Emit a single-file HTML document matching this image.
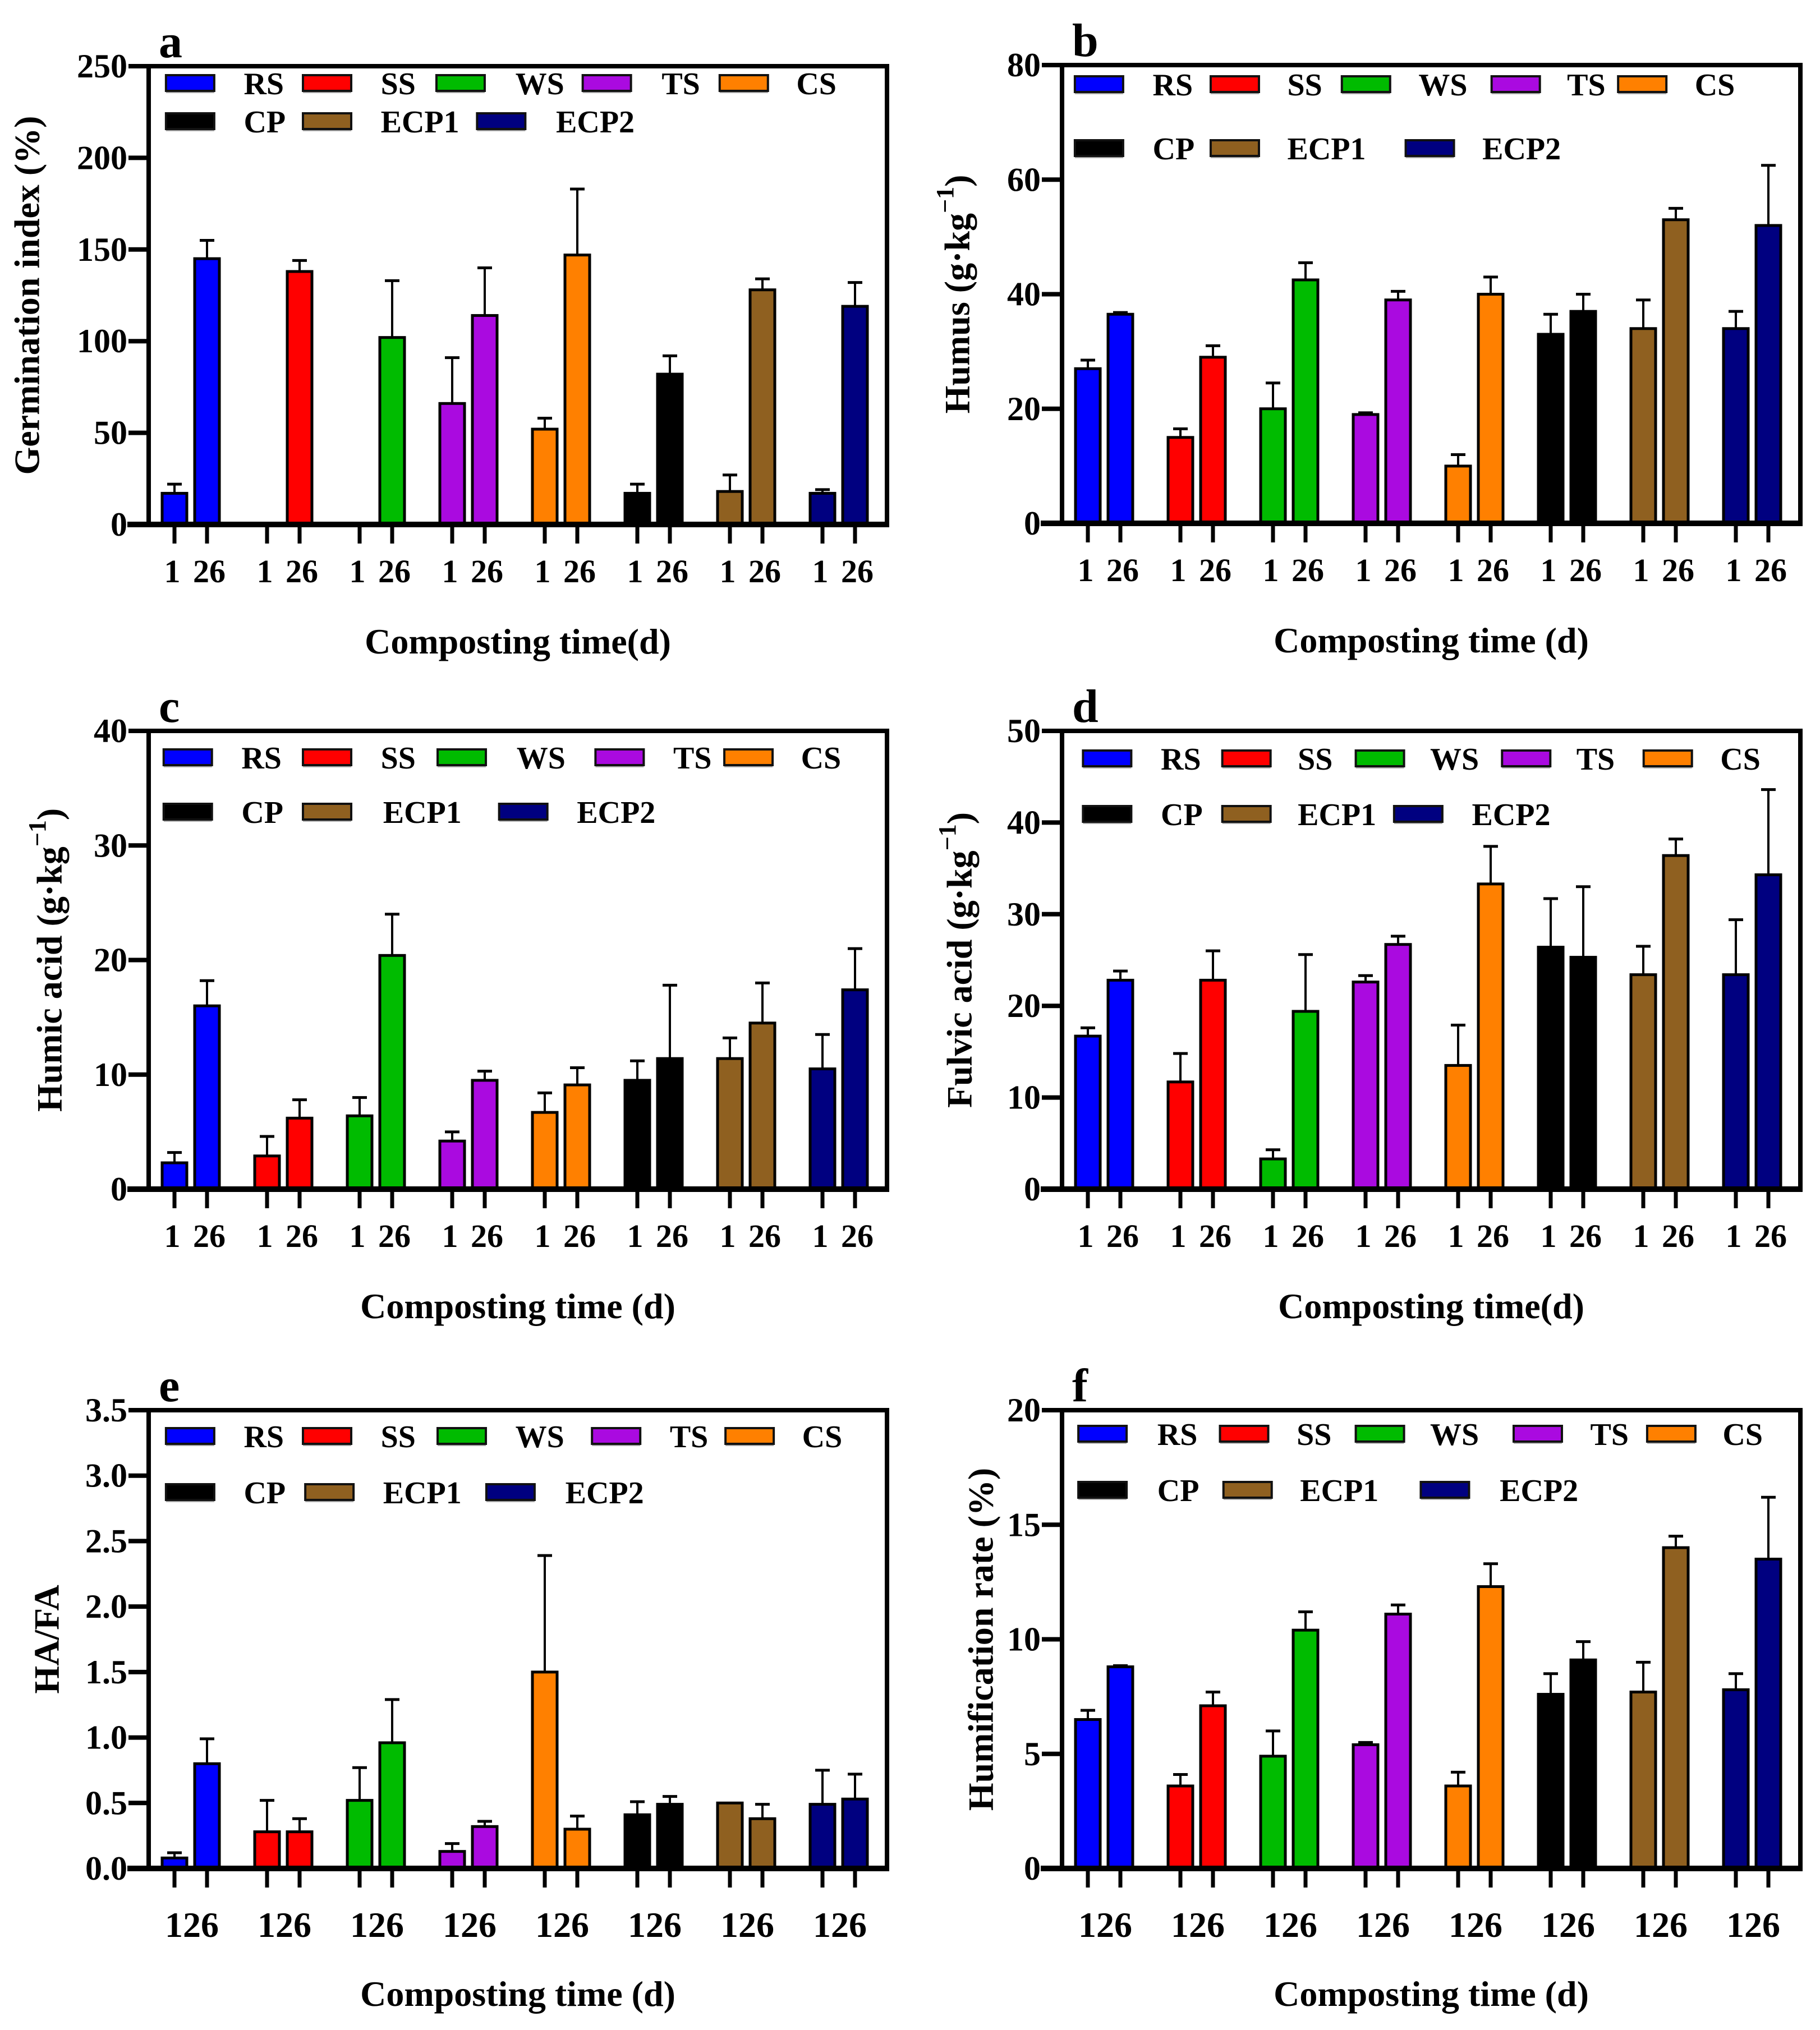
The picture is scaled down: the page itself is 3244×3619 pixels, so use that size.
<!DOCTYPE html>
<html><head><meta charset="utf-8"><style>
html,body{margin:0;padding:0;background:#fff;}
svg{display:block;font-family:"Liberation Serif","Times New Roman",serif;font-weight:bold;}
</style></head><body>
<svg id="fig" width="3244" height="3619" viewBox="0 0 3244 3619" xmlns="http://www.w3.org/2000/svg"></svg>
<script>
const groups = ["RS","SS","WS","TS","CS","CP","ECP1","ECP2"];
const colors = ["#0000ff","#ff0000","#00bb00","#aa0ae0","#ff8000","#000000","#8f6020","#000080"];
const days = ["1","26"];
// panel a: germination index
const aDay1 = [17,0,0,66,52,17,18,17];
const aDay26 = [145,138,102,114,147,82,128,119];
const aErr1 = [22,0,0,91,58,22,27,19];
const aErr26 = [155,144,133,140,183,92,134,132];
const aTicks = ["0","50","100","150","200","250"];
// panel b: humus
const bDay1 = [27,15,20,19,10,33,34,34];
const bDay26 = [36.5,29,42.5,39,40,37,53,52];
const bErr1 = [28.5,16.5,24.5,19.3,12,36.5,39,37];
const bErr26 = [36.8,31,45.5,40.5,43,40,55,62.5];
const bTicks = ["0","20","40","60","80"];
// panel c: humic acid
const cDay1 = [2.3,2.9,6.4,4.2,6.7,9.5,11.4,10.5];
const cDay26 = [16,6.2,20.4,9.5,9.1,11.4,14.5,17.4];
const cErr1 = [3.2,4.6,8,5,8.4,11.2,13.2,13.5];
const cErr26 = [18.2,7.8,24,10.3,10.6,17.8,18,21];
const cTicks = ["0","10","20","30","40"];
// panel d: fulvic acid
const dDay1 = [16.7,11.7,3.3,22.6,13.5,26.4,23.4,23.4];
const dDay26 = [22.8,22.8,19.4,26.7,33.3,25.3,36.4,34.3];
const dErr1 = [17.6,14.8,4.3,23.3,17.9,31.7,26.5,29.4];
const dErr26 = [23.8,26,25.6,27.6,37.4,33,38.2,43.6];
const dTicks = ["0","10","20","30","40","50"];
// panel e: HA/FA
const eDay1 = [0.08,0.28,0.52,0.13,1.5,0.41,0.5,0.49];
const eDay26 = [0.8,0.28,0.96,0.32,0.3,0.49,0.38,0.53];
const eErr1 = [0.12,0.52,0.77,0.19,2.39,0.51,0.5,0.75];
const eErr26 = [0.99,0.38,1.29,0.36,0.4,0.55,0.49,0.72];
const eTicks = ["0.0","0.5","1.0","1.5","2.0","2.5","3.0","3.5"];
// panel f: humification rate
const fDay1 = [6.5,3.6,4.9,5.4,3.6,7.6,7.7,7.8];
const fDay26 = [8.8,7.1,10.4,11.1,12.3,9.1,14,13.5];
const fErr1 = [6.9,4.1,6,5.5,4.2,8.5,9,8.5];
const fErr26 = [8.85,7.7,11.2,11.5,13.3,9.9,14.5,16.2];
const fTicks = ["0","5","10","15","20"];

const NS="http://www.w3.org/2000/svg";
const svg=document.getElementById('fig');
function mk(tag,attrs,parent){const e=document.createElementNS(NS,tag);for(const k in attrs)e.setAttribute(k,attrs[k]);(parent||svg).appendChild(e);return e;}

const panels=[
 {id:'a',L:265,T:118,d1:aDay1,d2:aDay26,e1:aErr1,e2:aErr26,ticks:aTicks,max:250,ytitle:'Germination index (%)',yx:55,xt:'Composting time(d)',
  lg:{y1:31,y2:99,sw1:[15,133,248,374,492],tx1:[82,200,316,442,558],sw2:[15,133,283],tx2:[82,200,351]},close:false},
 {id:'b',L:1893,T:116,d1:bDay1,d2:bDay26,e1:bErr1,e2:bErr26,ticks:bTicks,max:80,ytitle:'Humus (g·kg',yx:1713,xt:'Composting time (d)',
  lg:{y1:35,y2:149,sw1:[11,128,241,370,479],tx1:[78,194,307,435,545],sw2:[11,128,296],tx2:[78,194,362]},close:false,sup:true},
 {id:'c',L:265,T:1303,d1:cDay1,d2:cDay26,e1:cErr1,e2:cErr26,ticks:cTicks,max:40,ytitle:'Humic acid (g·kg',yx:95,xt:'Composting time (d)',
  lg:{y1:48,y2:145,sw1:[13,133,249,385,496],tx1:[80,200,317,452,562],sw2:[13,133,302],tx2:[80,202,369]},close:false,sup:true},
 {id:'d',L:1893,T:1303,d1:dDay1,d2:dDay26,e1:dErr1,e2:dErr26,ticks:dTicks,max:50,ytitle:'Fulvic acid (g·kg',yx:1717,xt:'Composting time(d)',
  lg:{y1:50,y2:149,sw1:[18,138,253,379,501],tx1:[85,203,317,443,567],sw2:[18,138,286],tx2:[85,203,353]},close:false,sup:true},
 {id:'e',L:265,T:2514,d1:eDay1,d2:eDay26,e1:eErr1,e2:eErr26,ticks:eTicks,max:3.5,ytitle:'HA/FA',yx:90,xt:'Composting time (d)',
  lg:{y1:47,y2:147,sw1:[15,133,249,382,497],tx1:[82,200,316,449,563],sw2:[15,135,291],tx2:[82,202,359]},close:true},
 {id:'f',L:1893,T:2514,d1:fDay1,d2:fDay26,e1:fErr1,e2:fErr26,ticks:fTicks,max:20,ytitle:'Humification rate (%)',yx:1755,xt:'Composting time (d)',
  lg:{y1:43,y2:143,sw1:[14,136,253,389,504],tx1:[82,202,317,455,569],sw2:[14,139,309],tx2:[82,205,377]},close:true}
];
const W=1316,H=817,K=2.069;

panels.forEach(p=>{
  const g=mk('g',{});
  
  
  const L=p.L,T=p.T,B=T+H,R=L+W;
  const y=v=>B-v/p.max*H;
  const x=(i,j)=>L+46+165*i+58*j;
  // panel letter
  const lt=mk('text',{x:L+18,y:T-16,'font-size':84},g);lt.textContent=p.id;
  
  // bars
  const vals=[p.d1,p.d2],errs=[p.e1,p.e2];
  for(let i=0;i<8;i++)for(let j=0;j<2;j++){
    const v=vals[j][i],e=errs[j][i],cx=x(i,j);
    if(e>v){
      const el=mk('line',{x1:cx,x2:cx,y1:y(v),y2:y(e),stroke:'#000','stroke-width':4},g);
      
      mk('line',{x1:cx-13,x2:cx+13,y1:y(e),y2:y(e),stroke:'#000','stroke-width':5},g);
    }
    if(v>0){
      const r=mk('rect',{x:cx-22,y:y(v),width:44,height:B-y(v),fill:colors[i],stroke:'#000','stroke-width':5},g);
      
      
    }
    const tk=mk('line',{x1:cx,x2:cx,y1:B,y2:B+34,stroke:'#000','stroke-width':7},g);
    
  }
  // tick labels x
  for(let i=0;i<8;i++){
    if(p.close){
      const t=mk('text',{x:(x(i,0)+x(i,1))/2+2,y:B+122,'font-size':64,'text-anchor':'middle'},g);
      t.textContent=days[0]+days[1];
      
    }else{
      for(let j=0;j<2;j++){
        const t=mk('text',{x:x(i,j)+(j?4:-4),y:B+103,'font-size':58,'text-anchor':'middle'},g);
        t.textContent=days[j];
        
      }
    }
  }
  // frame
  const fr=mk('path',{d:`M${L} ${B} L${L} ${T} L${R} ${T} L${R} ${B}`,fill:'none',stroke:'#000','stroke-width':8},g);
  
  const xa=mk('line',{x1:L-38,x2:R+4,y1:B,y2:B,stroke:'#000','stroke-width':10},g);
  
  // y ticks
  p.ticks.forEach((s,k)=>{
    const v=k*p.max/(p.ticks.length-1);
    mk('line',{x1:L-36,x2:L,y1:y(v),y2:y(v),stroke:'#000','stroke-width':8},g);
    const t=mk('text',{x:L-38,y:y(v)+20,'font-size':60,'text-anchor':'end'},g);
    t.textContent=s;
    
  });
  // y title
  const cy=T+H/2;
  const yt=mk('text',{x:p.yx,y:cy,'font-size':64,'text-anchor':'middle',transform:`rotate(-90 ${p.yx} ${cy})`,'dominant-baseline':'middle'},g);
  
  if(p.sup){
    yt.appendChild(document.createTextNode(p.ytitle));
    const s1=mk('tspan',{'baseline-shift':'super','font-size':44},yt);s1.textContent='−1';
    const s2=mk('tspan',{},yt);s2.textContent=')';
  } else yt.textContent=p.ytitle;
  // x title
  const xt=mk('text',{x:L+W/2,y:p.close?B+245:B+230,'font-size':64,'text-anchor':'middle'},g);
  xt.textContent=p.xt;
  
  // legend
  const lg=p.lg;
  for(let i=0;i<8;i++){
    const row=i<5?0:1,k=i<5?i:i-5;
    const sx=L+(row?lg.sw2[k]:lg.sw1[k])*K-(L===265?265-128*K:1893-915*K);
    const tx=L+(row?lg.tx2[k]:lg.tx1[k])*K-(L===265?265-128*K:1893-915*K);
    const cy2=T+(row?lg.y2:lg.y1);
    const e=mk('g',{},g);
    
    
    mk('rect',{x:sx,y:cy2-11,width:86,height:28,fill:'#aaa'},e);
    mk('rect',{x:sx,y:cy2-15,width:86,height:28,fill:colors[i],stroke:'#111','stroke-width':4},e);
    const t=mk('text',{x:tx,y:cy2+19,'font-size':56},e);
    t.textContent=groups[i];
  }
});
</script>
</body></html>
